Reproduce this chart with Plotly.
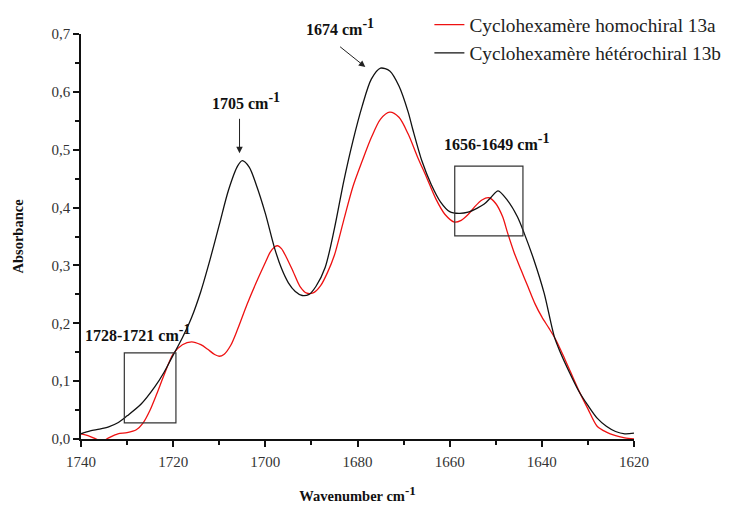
import plotly.graph_objects as go

# Red: Cyclohexamère homochiral 13a
wn_a = [1740, 1738.5, 1737, 1735.5, 1734, 1732, 1730, 1728, 1726.5, 1725, 1723.5, 1722, 1720,
        1718, 1716, 1714, 1712.5, 1711, 1710, 1709, 1707.5, 1706, 1704, 1702, 1700, 1699, 1698,
        1697.3, 1696.5, 1695.5, 1694, 1692.5, 1691, 1689.5, 1688, 1686.5, 1685, 1683, 1681, 1679,
        1677, 1675, 1673, 1671, 1669, 1667, 1665, 1663, 1661, 1659, 1657.5, 1656, 1654.5, 1653,
        1651.5, 1650, 1648.5, 1647.5, 1646, 1644.5, 1643, 1641.5, 1640, 1638.5, 1637, 1635, 1632,
        1630, 1628, 1626, 1624, 1622, 1620]
abs_a = [0.009, 0.006, 0.001, -0.004, 0.002, 0.009, 0.011, 0.016, 0.028, 0.05, 0.079, 0.11, 0.147,
         0.163, 0.168, 0.163, 0.155, 0.146, 0.143, 0.146, 0.162, 0.19, 0.232, 0.27, 0.305, 0.322, 0.332,
         0.334, 0.329, 0.315, 0.29, 0.264, 0.252, 0.253, 0.265, 0.288, 0.318, 0.378, 0.436, 0.48,
         0.521, 0.553, 0.565, 0.556, 0.527, 0.488, 0.452, 0.415, 0.388, 0.375, 0.378, 0.388, 0.402, 0.413,
         0.417, 0.407, 0.384, 0.358, 0.322, 0.292, 0.263, 0.234, 0.211, 0.192, 0.172, 0.138, 0.084,
         0.052, 0.022, 0.012, 0.006, 0.002, 0.0]

# Black: Cyclohexamère hétérochiral 13b
wn_b = [1740, 1738, 1736, 1734, 1732, 1730, 1727, 1724, 1722, 1720, 1718, 1716, 1714, 1712, 1710,
        1708, 1706, 1705, 1703.5, 1702, 1700, 1698, 1696.5, 1695, 1693.5, 1692, 1690.5, 1689, 1687,
        1685, 1683, 1681, 1679, 1677, 1675, 1673, 1671, 1669, 1668, 1666, 1664, 1662, 1660, 1658,
        1656, 1654, 1652.5, 1651, 1649.5, 1647.5, 1645.3, 1643.8, 1641.7, 1639.5, 1637.3, 1636,
        1634, 1632, 1630, 1628, 1626, 1624, 1622, 1620]
abs_b = [0.009, 0.014, 0.017, 0.021, 0.028, 0.04, 0.06, 0.09, 0.115, 0.145, 0.175, 0.21, 0.255, 0.31, 0.37,
         0.43, 0.472, 0.481, 0.47, 0.44, 0.39, 0.33, 0.295, 0.27, 0.255, 0.248, 0.25, 0.264, 0.297,
         0.364, 0.445, 0.515, 0.575, 0.622, 0.641, 0.636, 0.61, 0.565, 0.535, 0.48, 0.44, 0.41, 0.393, 0.39,
         0.392, 0.399, 0.406, 0.418, 0.429, 0.413, 0.384, 0.355, 0.309, 0.252, 0.177, 0.15,
         0.115, 0.083, 0.058, 0.036, 0.022, 0.013, 0.009, 0.01]

names = ["Cyclohexamère homochiral 13a", "Cyclohexamère hétérochiral 13b"]
colors = ["#ee1111", "#111111"]

x_ticks = [1740, 1720, 1700, 1680, 1660, 1640, 1620]
y_ticks = [0.0, 0.1, 0.2, 0.3, 0.4, 0.5, 0.6, 0.7]

serif = "Liberation Serif, Times New Roman, serif"
SUP = '<sup><span style="font-size:{}px">-1</span></sup>'

fig = go.Figure()
fig.add_trace(go.Scatter(x=wn_a, y=abs_a, mode="lines", name=names[0],
                         line=dict(color=colors[0], width=1.3, shape="spline", smoothing=0.8)))
fig.add_trace(go.Scatter(x=wn_b, y=abs_b, mode="lines", name=names[1],
                         line=dict(color=colors[1], width=1.3, shape="spline", smoothing=0.8)))

# boxes
fig.add_shape(type="rect", x0=1730.6, x1=1719.4, y0=0.028, y1=0.149, xref="x", yref="y",
              line=dict(color="#333", width=1.2))
fig.add_shape(type="rect", x0=1658.9, x1=1644.1, y0=0.351, y1=0.4715, xref="x", yref="y",
              line=dict(color="#333", width=1.2))

ann_font = dict(family=serif, size=16, color="#111")
# labels
fig.add_annotation(x=1704.2, y=0.585, xref="x", yref="y", text="<b>1705 cm" + SUP.format(14) + "</b>",
                   showarrow=False, font=ann_font)
fig.add_annotation(x=1683.8, y=1.017, xref="x", yref="paper", yanchor="middle",
                   text="<b>1674 cm" + SUP.format(14) + "</b>", showarrow=False, font=ann_font)
fig.add_annotation(x=1727.7, y=0.183, xref="x", yref="y", text="<b>1728-1721 cm" + SUP.format(14) + "</b>",
                   showarrow=False, font=ann_font)
fig.add_annotation(x=1649.8, y=0.513, xref="x", yref="y", text="<b>1656-1649 cm" + SUP.format(14) + "</b>",
                   showarrow=False, font=ann_font)
# arrows
fig.add_annotation(x=1705.6, y=0.494, xref="x", yref="y", ax=1705.6, ay=0.556, axref="x", ayref="y",
                   text="", showarrow=True, arrowhead=2, arrowsize=1.3, arrowwidth=1, arrowcolor="#222")
fig.add_annotation(x=1678.3, y=0.643, xref="x", yref="y", ax=1684.1, ay=0.68, axref="x", ayref="y",
                   text="", showarrow=True, arrowhead=2, arrowsize=1.3, arrowwidth=1, arrowcolor="#222")

# the page body adds an 8px margin, so the figure is sized/margined to land where the reference is
fig.update_layout(
    width=729, height=498,
    margin=dict(l=73, r=103, t=26, b=67, autoexpand=False),
    paper_bgcolor="white", plot_bgcolor="white",
    separators=",.",
    showlegend=True,
    legend=dict(x=0.63, y=1.07, xanchor="left", yanchor="top", bgcolor="rgba(0,0,0,0)",
                font=dict(family=serif, size=19.3, color="#222"), tracegroupgap=0),
    font=dict(family=serif, color="#222"),
)
fig.update_xaxes(
    range=[1740, 1620], tickvals=x_ticks, showgrid=False, zeroline=False,
    showline=True, linecolor="#111", linewidth=1.5,
    ticks="outside", ticklen=6, tickwidth=1.5, tickcolor="#111", ticklabelstandoff=2,
    tickfont=dict(family=serif, size=15, color="#333"),
    minor=dict(dtick=10, ticks="outside", ticklen=4, tickwidth=1.5, tickcolor="#111", showgrid=False),
    title=dict(text="<b>Wavenumber cm" + SUP.format(13) + "</b>",
               font=dict(family=serif, size=14.5, color="#111"), standoff=22),
)
fig.update_yaxes(
    range=[0, 0.7], tickvals=y_ticks, tickformat=".1f", showgrid=False, zeroline=False,
    showline=True, linecolor="#111", linewidth=1.5,
    ticks="outside", ticklen=6, tickwidth=1.5, tickcolor="#111",
    tickfont=dict(family=serif, size=15, color="#333"),
    minor=dict(dtick=0.05, ticks="outside", ticklen=4, tickwidth=1.5, tickcolor="#111", showgrid=False),
    title=dict(text="<b>Absorbance</b>", font=dict(family=serif, size=14.5, color="#111"), standoff=24),
)

fig.write_html("out.html")
